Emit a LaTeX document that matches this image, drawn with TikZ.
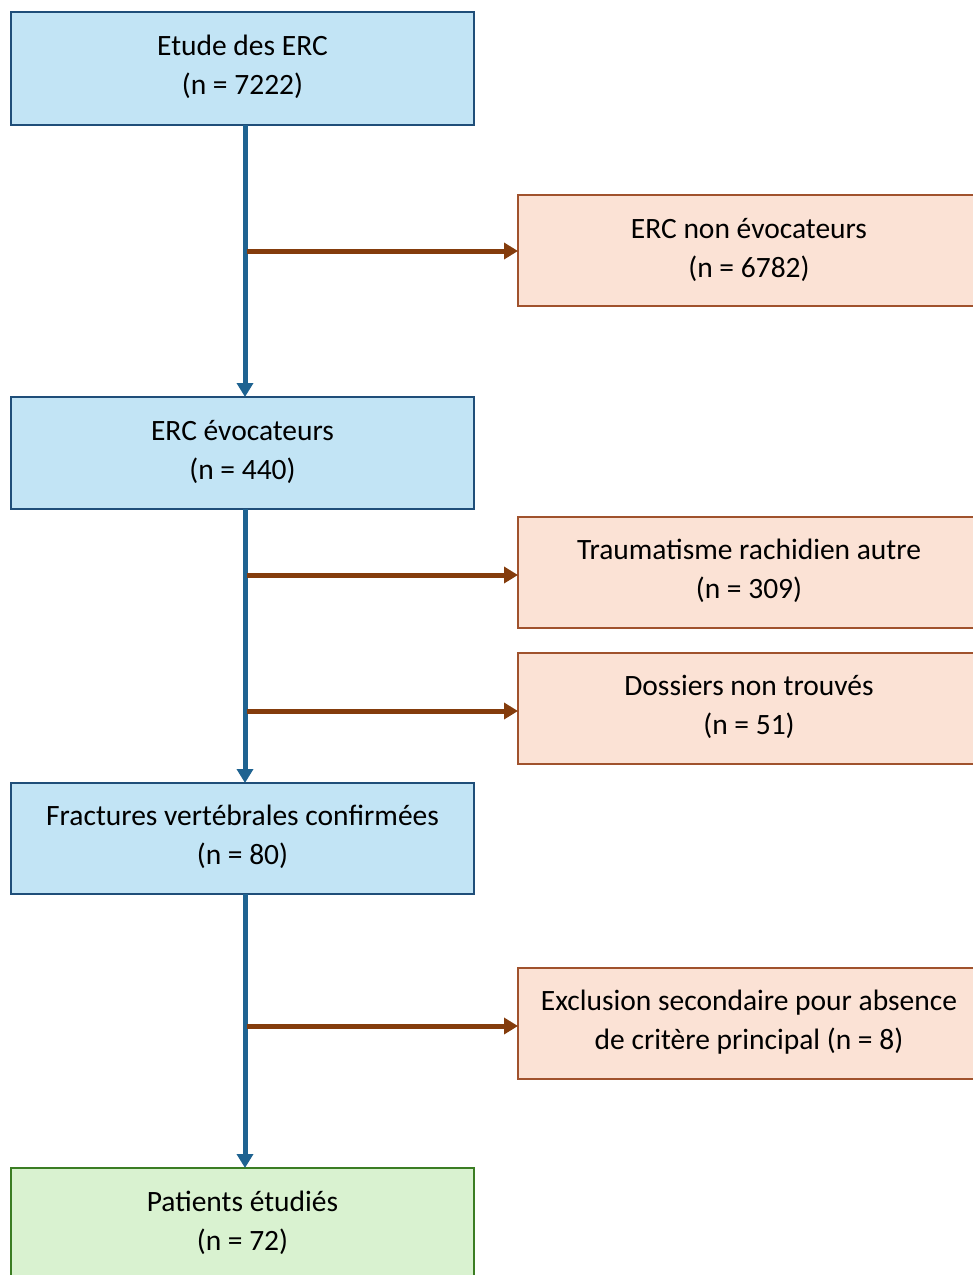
\documentclass[tikz,border=0pt]{standalone}
\usepackage{fontspec}
\setmainfont{Carlito}
\usetikzlibrary{arrows.meta}
\definecolor{bfill}{HTML}{C2E4F5}
\definecolor{bdraw}{HTML}{1F4E79}
\definecolor{sfill}{HTML}{FBE2D5}
\definecolor{sdraw}{HTML}{A0522D}
\definecolor{gfill}{HTML}{D9F2D0}
\definecolor{gdraw}{HTML}{3B7D23}
\definecolor{bline}{HTML}{1F6391}
\definecolor{sline}{HTML}{843C0C}
\begin{document}
\begin{tikzpicture}[x=1pt,y=-1pt,
  txt/.style={font=\fontsize{29.5}{39}\selectfont, align=center},
  bluebox/.style={draw=bdraw, fill=bfill, line width=2.5pt},
  salbox/.style={draw=sdraw, fill=sfill, line width=2.5pt},
  grnbox/.style={draw=gdraw, fill=gfill, line width=2.5pt},
  vline/.style={draw=bline, line width=5pt, -{Triangle[length=14pt,width=16pt]}},
  hline/.style={draw=sline, line width=5pt, -{Triangle[length=14pt,width=16pt]}}]
\useasboundingbox (0,0) rectangle (973,1275);
% boxes
\draw[bluebox] (11,12) rectangle (474,125);
\node[txt] (b1) at (242.5,67) {Etude des ERC\\(n = 7222)};
\coordinate (b1s) at (245,125);
\draw[bluebox] (11,397) rectangle (474,509);
\node[txt] (b2) at (242.5,452) {ERC évocateurs\\(n = 440)};
\coordinate (b2n) at (245,397);
\coordinate (b2s) at (245,509);
\draw[bluebox] (11,783) rectangle (474,894);
\node[txt] (b3) at (242.5,837) {Fractures vertébrales confirmées\\(n = 80)};
\coordinate (b3n) at (245,783);
\coordinate (b3s) at (245,894);
\draw[grnbox] (11,1168) rectangle (474,1290);
\node[txt] (b4) at (242.5,1223) {Patients étudiés\\(n = 72)};
\coordinate (b4n) at (245,1168);
% side boxes
\draw[salbox] (518,195) rectangle (985,306);
\node[txt] (s1) at (749,250) {ERC non évocateurs\\(n = 6782)};
\draw[salbox] (518,517) rectangle (985,628);
\node[txt] (s2) at (749,571) {Traumatisme rachidien autre\\(n = 309)};
\draw[salbox] (518,653) rectangle (985,764);
\node[txt] (s3) at (749,707) {Dossiers non trouvés\\(n = 51)};
\draw[salbox] (518,968) rectangle (985,1079);
\node[txt] (s4) at (749,1022) {Exclusion secondaire pour absence\\de critère principal (n = 8)};
% vertical connectors
\draw[vline] (b1s) -- (b2n);
\draw[vline] (b2s) -- (b3n);
\draw[vline] (b3s) -- (b4n);
% horizontal connectors
\coordinate (h1) at (247,251); \coordinate (t1) at (518,251);
\coordinate (h2) at (247,575); \coordinate (t2) at (518,575);
\coordinate (h3) at (247,711); \coordinate (t3) at (518,711);
\coordinate (h4) at (247,1026); \coordinate (t4) at (518,1026);
\draw[hline] (h1) -- (t1);
\draw[hline] (h2) -- (t2);
\draw[hline] (h3) -- (t3);
\draw[hline] (h4) -- (t4);
\end{tikzpicture}
\end{document}
